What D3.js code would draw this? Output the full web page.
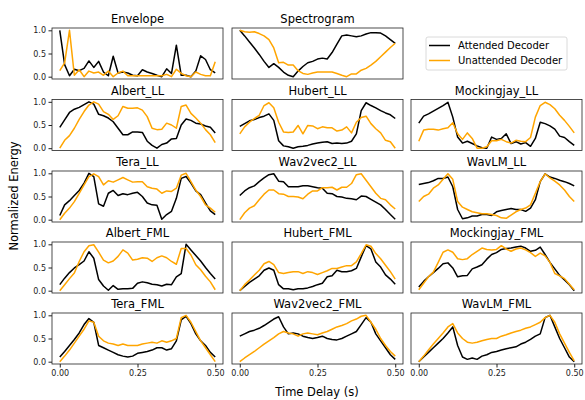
<!DOCTYPE html>
<html>
<head>
<meta charset="utf-8">
<script src="https://cdn.jsdelivr.net/npm/d3@7"></script>
<style>
  body { margin: 0; background: #fff; }
  svg { font-family: "DejaVu Sans", sans-serif; }
</style>
</head>
<body>
<div id="chart"></div>
<script>
// energy vs time lag, 33 lags from 0 to 0.5 s
var fs = 64;

var envelopeAtt   = [1.0,0.26,0.02,0.16,0.13,0.18,0.34,0.2,0.33,0.1,0.02,0.44,0.08,0.1,0.08,0.03,0.02,0.15,0.1,0.07,0.03,0.0,0.17,0.07,0.68,0.03,0.03,0.0,0.12,0.45,0.37,0.15,0.08];
var envelopeUnatt = [0.13,0.3,1.0,0.03,0.15,0.0,0.12,0.08,0.1,0.03,0.12,0.0,0.08,0.12,0.02,0.02,0.02,0.02,0.02,0.02,0.02,0.02,0.05,0.0,0.16,0.07,0.02,0.0,0.1,0.05,0.02,0.02,0.32];
var spectroAtt    = [1.0,0.88,0.75,0.62,0.48,0.33,0.2,0.28,0.2,0.1,0.03,0.0,0.12,0.22,0.3,0.33,0.38,0.4,0.38,0.52,0.7,0.88,0.9,0.88,0.86,0.88,0.92,0.95,0.95,0.94,0.88,0.8,0.72];
var spectroUnatt  = [1.0,0.97,0.96,0.97,0.93,0.88,0.8,0.62,0.3,0.31,0.25,0.25,0.13,0.07,0.05,0.08,0.1,0.1,0.1,0.1,0.07,0.03,0.0,0.06,0.06,0.14,0.18,0.25,0.33,0.43,0.53,0.63,0.72];

var albertLLAtt   = [0.45,0.61,0.77,0.84,0.88,0.94,1.0,0.95,0.73,0.7,0.65,0.57,0.43,0.29,0.29,0.35,0.35,0.34,0.15,0.06,0.0,0.08,0.11,0.2,0.21,0.5,0.63,0.6,0.54,0.52,0.48,0.45,0.33];
var albertLLUnatt = [0.0,0.17,0.27,0.43,0.62,0.79,0.93,1.0,0.95,0.79,0.73,0.62,0.7,0.9,0.86,0.86,0.87,0.82,0.68,0.43,0.4,0.41,0.54,0.5,0.43,0.9,0.93,0.75,0.65,0.54,0.4,0.29,0.12];
var hubertLLAtt   = [0.47,0.53,0.59,0.62,0.66,0.69,0.74,0.6,0.16,0.05,0.03,0.0,0.03,0.04,0.06,0.09,0.11,0.13,0.14,0.1,0.11,0.1,0.11,0.15,0.31,0.81,0.98,0.92,0.87,0.81,0.76,0.72,0.64];
var hubertLLUnatt = [0.31,0.46,0.56,0.64,0.71,0.92,0.98,0.87,0.56,0.35,0.34,0.35,0.49,0.31,0.49,0.48,0.42,0.46,0.44,0.44,0.37,0.39,0.46,0.33,0.56,0.66,0.69,0.53,0.42,0.33,0.17,0.14,0.0];
var mockLLAtt     = [0.54,0.69,0.74,0.8,0.86,0.92,0.99,0.67,0.24,0.11,0.15,0.1,0.05,0.01,0.0,0.24,0.19,0.21,0.31,0.1,0.14,0.09,0.12,0.04,0.21,0.56,0.53,0.48,0.41,0.26,0.23,0.14,0.06];
var mockLLUnatt   = [0.15,0.39,0.41,0.41,0.39,0.42,0.44,0.55,0.31,0.19,0.33,0.21,0.0,0.0,0.03,0.16,0.16,0.19,0.14,0.11,0.17,0.15,0.14,0.23,0.67,0.92,0.99,0.94,0.85,0.71,0.6,0.47,0.33];

var teraLLAtt     = [0.09,0.32,0.41,0.52,0.63,0.79,1.0,0.93,0.34,0.29,0.57,0.63,0.52,0.56,0.54,0.57,0.59,0.5,0.36,0.32,0.31,0.01,0.11,0.18,0.46,0.89,0.93,0.79,0.62,0.54,0.36,0.19,0.11];
var teraLLUnatt   = [0.0,0.14,0.25,0.39,0.57,0.75,0.93,0.99,0.93,0.75,0.84,0.81,0.86,0.91,0.86,0.81,0.82,0.82,0.71,0.68,0.66,0.57,0.62,0.61,0.68,0.96,1.0,0.82,0.64,0.5,0.32,0.25,0.16];
var w2vLLAtt      = [0.52,0.62,0.69,0.73,0.82,0.9,0.97,0.99,0.83,0.82,0.71,0.71,0.71,0.73,0.73,0.71,0.69,0.68,0.57,0.56,0.5,0.49,0.46,0.45,0.43,0.51,0.5,0.44,0.38,0.32,0.22,0.11,0.01];
var w2vLLUnatt    = [0.0,0.15,0.25,0.3,0.43,0.55,0.64,0.64,0.56,0.55,0.5,0.5,0.49,0.45,0.55,0.62,0.62,0.69,0.69,0.7,0.64,0.7,0.7,0.78,0.97,0.99,0.85,0.71,0.57,0.46,0.43,0.32,0.23];
var wavlmLLAtt    = [0.76,0.78,0.8,0.84,0.89,0.89,0.92,0.71,0.22,0.02,0.04,0.08,0.08,0.11,0.11,0.09,0.17,0.2,0.22,0.24,0.22,0.22,0.18,0.25,0.43,0.82,0.99,0.92,0.89,0.85,0.82,0.78,0.73];
var wavlmLLUnatt  = [0.39,0.5,0.55,0.68,0.75,0.87,0.99,0.87,0.39,0.27,0.22,0.17,0.15,0.13,0.13,0.11,0.09,0.04,0.03,0.1,0.17,0.22,0.25,0.32,0.57,0.82,0.99,0.9,0.83,0.75,0.64,0.5,0.39];

var albertFMLAtt   = [0.13,0.27,0.39,0.49,0.56,0.64,0.84,0.7,0.24,0.1,0.01,0.11,0.03,0.04,0.04,0.05,0.16,0.19,0.17,0.14,0.13,0.1,0.14,0.13,0.3,0.37,1.0,0.88,0.76,0.64,0.5,0.37,0.25];
var albertFMLUnatt = [0.0,0.13,0.26,0.38,0.63,0.84,0.97,0.99,0.83,0.66,0.6,0.64,0.74,0.88,0.81,0.66,0.68,0.71,0.7,0.63,0.71,0.75,0.71,0.63,0.57,0.91,0.91,0.77,0.56,0.45,0.31,0.19,0.02];
var hubertFMLAtt   = [0.0,0.09,0.18,0.25,0.32,0.44,0.49,0.44,0.13,0.04,0.04,0.02,0.04,0.04,0.06,0.09,0.13,0.16,0.3,0.32,0.44,0.41,0.41,0.43,0.48,0.73,0.97,0.9,0.62,0.51,0.34,0.25,0.14];
var hubertFMLUnatt = [0.0,0.13,0.23,0.34,0.44,0.58,0.63,0.56,0.39,0.37,0.39,0.41,0.41,0.37,0.41,0.39,0.35,0.39,0.43,0.48,0.48,0.51,0.54,0.54,0.62,0.8,0.99,0.96,0.8,0.69,0.55,0.41,0.25];
var mockFMLAtt     = [0.08,0.2,0.3,0.39,0.48,0.58,0.6,0.49,0.3,0.32,0.33,0.47,0.51,0.56,0.68,0.78,0.82,0.89,0.91,0.92,0.94,0.96,0.92,0.85,0.87,0.94,0.78,0.61,0.47,0.33,0.23,0.13,0.0];
var mockFMLUnatt   = [0.02,0.16,0.3,0.4,0.61,0.83,0.88,0.83,0.69,0.67,0.69,0.78,0.85,0.92,0.89,0.88,0.89,0.97,0.9,0.85,0.9,0.92,0.88,0.82,0.74,0.81,0.75,0.61,0.37,0.32,0.26,0.14,0.02];

var teraFMLAtt     = [0.1,0.22,0.35,0.48,0.62,0.8,0.93,0.85,0.35,0.3,0.25,0.2,0.15,0.12,0.1,0.12,0.18,0.2,0.22,0.25,0.3,0.3,0.25,0.28,0.45,0.9,0.98,0.82,0.6,0.45,0.35,0.2,0.1];
var teraFMLUnatt   = [0.0,0.12,0.25,0.4,0.55,0.7,0.88,0.85,0.55,0.45,0.4,0.38,0.35,0.38,0.35,0.35,0.35,0.38,0.4,0.42,0.4,0.45,0.42,0.45,0.5,0.95,1.0,0.85,0.65,0.45,0.3,0.15,0.0];
var w2vFMLAtt      = [0.55,0.6,0.65,0.68,0.72,0.78,0.85,0.92,0.97,0.75,0.6,0.62,0.6,0.55,0.52,0.5,0.52,0.55,0.5,0.48,0.47,0.5,0.55,0.6,0.65,0.8,0.95,0.85,0.6,0.45,0.3,0.15,0.05];
var w2vFMLUnatt    = [0.0,0.08,0.15,0.22,0.3,0.38,0.45,0.52,0.6,0.65,0.62,0.6,0.55,0.6,0.62,0.6,0.58,0.62,0.65,0.7,0.75,0.78,0.82,0.88,0.92,0.98,1.0,0.85,0.7,0.5,0.35,0.22,0.12];
var wavlmFMLAtt    = [0.0,0.1,0.2,0.3,0.4,0.5,0.62,0.75,0.35,0.1,0.05,0.08,0.05,0.12,0.15,0.2,0.22,0.25,0.28,0.3,0.32,0.38,0.42,0.48,0.55,0.6,0.95,1.0,0.75,0.5,0.3,0.1,0.0];
var wavlmFMLUnatt  = [0.0,0.12,0.25,0.38,0.5,0.62,0.75,0.82,0.62,0.5,0.42,0.4,0.42,0.45,0.48,0.5,0.5,0.55,0.58,0.62,0.65,0.68,0.72,0.75,0.8,0.85,0.95,1.0,0.85,0.6,0.4,0.2,0.02];

var panels = [
  {title: "Envelope",       row: 0, col: 0, att: envelopeAtt,  unatt: envelopeUnatt},
  {title: "Spectrogram",    row: 0, col: 1, att: spectroAtt,   unatt: spectroUnatt},
  {title: "Albert_LL",      row: 1, col: 0, att: albertLLAtt,  unatt: albertLLUnatt},
  {title: "Hubert_LL",      row: 1, col: 1, att: hubertLLAtt,  unatt: hubertLLUnatt},
  {title: "Mockingjay_LL",  row: 1, col: 2, att: mockLLAtt,    unatt: mockLLUnatt},
  {title: "Tera_LL",        row: 2, col: 0, att: teraLLAtt,    unatt: teraLLUnatt},
  {title: "Wav2vec2_LL",    row: 2, col: 1, att: w2vLLAtt,     unatt: w2vLLUnatt},
  {title: "WavLM_LL",       row: 2, col: 2, att: wavlmLLAtt,   unatt: wavlmLLUnatt},
  {title: "Albert_FML",     row: 3, col: 0, att: albertFMLAtt, unatt: albertFMLUnatt},
  {title: "Hubert_FML",     row: 3, col: 1, att: hubertFMLAtt, unatt: hubertFMLUnatt},
  {title: "Mockingjay_FML", row: 3, col: 2, att: mockFMLAtt,   unatt: mockFMLUnatt},
  {title: "Tera_FML",       row: 4, col: 0, att: teraFMLAtt,   unatt: teraFMLUnatt},
  {title: "Wav2vec2_FML",   row: 4, col: 1, att: w2vFMLAtt,    unatt: w2vFMLUnatt},
  {title: "WavLM_FML",      row: 4, col: 2, att: wavlmFMLAtt,  unatt: wavlmFMLUnatt}
];

var xTicks = [0, 0.25, 0.5];
var yTicks = [0, 0.5, 1];
var seriesNames = ["Attended Decoder", "Unattended Decoder"];
var colors = ["#000000", "#ffa500"];

var width = 585, height = 400;
var colLeft = [52, 232, 411], panelW = 171;
var rowTop = [28, 99.5, 171, 242, 313], panelH = 51;

var svg = d3.select("#chart").append("svg")
  .attr("width", width)
  .attr("height", height);

// matplotlib-like 5% margins
var x = d3.scaleLinear().domain([-0.025, 0.525]).range([0, panelW]);
var y = d3.scaleLinear().domain([-0.05, 1.05]).range([panelH, 0]);

var line = d3.line()
  .x(function(d, i) { return x(i / fs); })
  .y(function(d) { return y(d); });

panels.forEach(function(p) {
  var g = svg.append("g")
    .attr("transform", "translate(" + colLeft[p.col] + "," + rowTop[p.row] + ")");

  g.append("path").datum(p.att)
    .attr("d", line).attr("fill", "none")
    .attr("stroke", colors[0]).attr("stroke-width", 1.5)
    .attr("stroke-linejoin", "round");
  g.append("path").datum(p.unatt)
    .attr("d", line).attr("fill", "none")
    .attr("stroke", colors[1]).attr("stroke-width", 1.5)
    .attr("stroke-linejoin", "round");

  g.append("rect")
    .attr("width", panelW).attr("height", panelH)
    .attr("fill", "none").attr("stroke", "#222").attr("stroke-width", 0.8);

  g.append("text")
    .attr("x", panelW / 2).attr("y", -5)
    .attr("text-anchor", "middle")
    .style("font-size", "11.5px")
    .text(p.title);

  if (p.col == 0) {
    var ya = g.append("g")
      .call(d3.axisLeft(y).tickValues(yTicks).tickFormat(d3.format(".1f")).tickSizeOuter(0).tickSize(3.5).tickPadding(2.5));
    ya.select(".domain").remove();
    ya.selectAll("text").style("font-size", "8px").attr("fill", "#222").style("font-family", "DejaVu Sans");
    ya.selectAll("line").attr("stroke", "#222");
  }
  if (p.row == 4) {
    var xa = g.append("g")
      .attr("transform", "translate(0," + panelH + ")")
      .call(d3.axisBottom(x).tickValues(xTicks).tickFormat(d3.format(".2f")).tickSizeOuter(0).tickSize(3.5).tickPadding(2.5));
    xa.select(".domain").remove();
    xa.selectAll("text").style("font-size", "8px").attr("fill", "#222").style("font-family", "DejaVu Sans");
    xa.selectAll("line").attr("stroke", "#222");
  }
});

// axis labels
svg.append("text")
  .attr("x", 317).attr("y", 396)
  .attr("text-anchor", "middle")
  .style("font-size", "11.5px")
  .text("Time Delay (s)");

svg.append("text")
  .attr("transform", "translate(18,196) rotate(-90)")
  .attr("text-anchor", "middle")
  .style("font-size", "11.5px")
  .text("Normalized Energy");

// legend
var leg = svg.append("g").attr("transform", "translate(426,37)");
leg.append("rect")
  .attr("width", 141).attr("height", 33).attr("rx", 2)
  .attr("fill", "#fff").attr("stroke", "#d0d0d0").attr("stroke-width", 0.8);
seriesNames.forEach(function(name, i) {
  leg.append("line")
    .attr("x1", 3).attr("x2", 24)
    .attr("y1", 8.5 + i * 15).attr("y2", 8.5 + i * 15)
    .attr("stroke", colors[i]).attr("stroke-width", 1.5);
  leg.append("text")
    .attr("x", 32).attr("y", 12 + i * 15)
    .style("font-size", "10px")
    .text(name);
});
</script>
</body>
</html>
